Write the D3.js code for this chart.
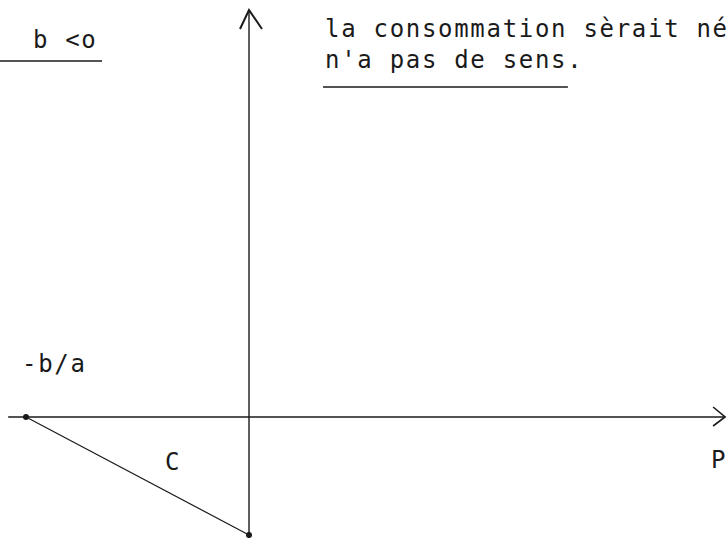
<!DOCTYPE html>
<html>
<head>
<meta charset="utf-8">
<script src="https://cdn.jsdelivr.net/npm/d3@7"></script>
<style>
  body { margin: 0; background: #fff; }
  svg { display: block; }
  text { font-family: "DejaVu Sans Mono", monospace; font-size: 24px; fill: #1a1a1a; letter-spacing: 1.7px; }
</style>
</head>
<body>
<svg id="chart" width="728" height="541"></svg>
<script>
// C = a*P + b, with b < 0 (so the root -b/a is on the negative side)
const coefA = -1;
const coefB = -1;
const root = -coefB / coefA;          // -b/a
const xExtent = [-1.08, 2.135];       // P axis
const yExtent = [-1.025, 3.449];      // C axis

const labels = [
  {text: "b <o", px: -0.969, py: 3.127},
  {text: "la consommation sèrait né", px: 0.341, py: 3.22},
  {text: "n'a pas de sens.", px: 0.341, py: 2.958},
  {text: "-b/a", px: -1.018, py: 0.381},
  {text: "C", px: -0.377, py: -0.449},
  {text: "P", px: 2.072, py: -0.432}
];

// underlines: [from P, to P, at C]
const underlines = [
  [-1.117, -0.659, 3.017],
  [0.332, 1.43, 2.797]
];

const svg = d3.select("#chart");
const x = d3.scaleLinear().domain([root, 0]).range([26, 249]);
const y = d3.scaleLinear().domain([0, coefB]).range([417, 535]);

const ink = "#1a1a1a";

// axes
svg.append("line")
    .attr("x1", x(xExtent[0])).attr("y1", y(0))
    .attr("x2", x(xExtent[1])).attr("y2", y(0))
    .attr("stroke", ink).attr("stroke-width", 1.3);
svg.append("line")
    .attr("x1", x(0)).attr("y1", y(yExtent[0]))
    .attr("x2", x(0)).attr("y2", y(yExtent[1]))
    .attr("stroke", ink).attr("stroke-width", 1.4);

// arrow heads
let topX = x(0), topY = y(yExtent[1]);
svg.append("path")
    .attr("d", "M" + (topX - 9) + "," + (topY + 19) + "L" + topX + "," + topY + "L" + (topX + 13) + "," + (topY + 19))
    .attr("fill", "none").attr("stroke", ink).attr("stroke-width", 2);
let endX = x(xExtent[1]), endY = y(0);
svg.append("path")
    .attr("d", "M" + (endX - 12) + "," + (endY - 10) + "L" + endX + "," + endY + "L" + (endX - 12) + "," + (endY + 9))
    .attr("fill", "none").attr("stroke", ink).attr("stroke-width", 1.6);

// the line C = aP + b between the root and the intercept
const linePts = [root, 0].map(p => [p, coefA * p + coefB]);
svg.append("path")
    .attr("d", d3.line().x(d => x(d[0])).y(d => y(d[1]))(linePts))
    .attr("fill", "none").attr("stroke", ink).attr("stroke-width", 1.2);
svg.selectAll(".pt")
    .data(linePts)
    .enter().append("circle")
    .attr("class", "pt")
    .attr("cx", d => x(d[0]))
    .attr("cy", d => y(d[1]))
    .attr("r", 3)
    .attr("fill", ink);

// texts and underlines
svg.selectAll(".lbl")
    .data(labels)
    .enter().append("text")
    .attr("class", "lbl")
    .attr("x", d => x(d.px))
    .attr("y", d => y(d.py))
    .text(d => d.text);

svg.selectAll(".ul")
    .data(underlines)
    .enter().append("line")
    .attr("class", "ul")
    .attr("x1", d => x(d[0]))
    .attr("x2", d => x(d[1]))
    .attr("y1", d => y(d[2]))
    .attr("y2", d => y(d[2]))
    .attr("stroke", ink).attr("stroke-width", 1.5);
</script>
</body>
</html>
